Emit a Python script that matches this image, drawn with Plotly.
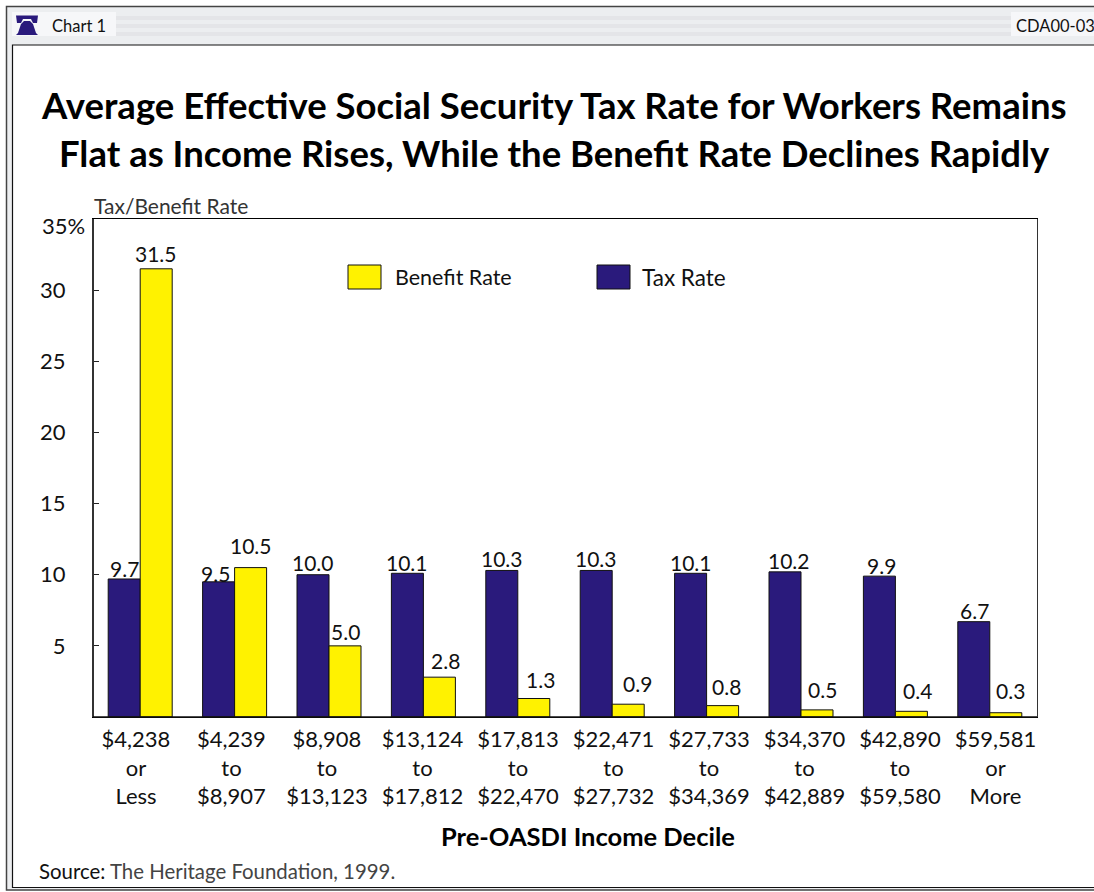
import plotly.graph_objects as go

# Income deciles and rates
income_bands = ["$4,238<br>or<br>Less", "$4,239<br>to<br>$8,907", "$8,908<br>to<br>$13,123",
                "$13,124<br>to<br>$17,812", "$17,813<br>to<br>$22,470", "$22,471<br>to<br>$27,732",
                "$27,733<br>to<br>$34,369", "$34,370<br>to<br>$42,889", "$42,890<br>to<br>$59,580",
                "$59,581<br>or<br>More"]
tax_rate = [9.7, 9.5, 10.0, 10.1, 10.3, 10.3, 10.1, 10.2, 9.9, 6.7]
benefit_rate = [31.5, 10.5, 5.0, 2.8, 1.3, 0.9, 0.8, 0.5, 0.4, 0.3]
y_ticks = [5, 10, 15, 20, 25, 30, 35]
y_tick_labels = ["5", "10", "15", "20", "25", "30", ""]

# Hand placement of the value labels (pixels away from each bar's top centre)
tax_label_lift = [10, 8, 12, 11, 12, 12, 11, 11, 11, 11]
tax_label_shift = [0, -3, 0, 0, 0, 0, 0, 4, 2, 1]
benefit_label_lift = [15, 22, 14, 17, 19, 21, 19, 20, 21, 22]
benefit_label_shift = [0, 0, 0, 6, 7, 9, 4, 5, 6, 5]

NAVY = "#2a1a7c"
YELLOW = "#fff200"
FONT = "Lato"
W, H = 1094, 892
L, R, T, B = 93, 1037, 219, 717
BAR_OFFSET = 16


def px_x(v):
    return (v - L) / (R - L)


def px_y(v):
    return (B - v) / (B - T)


def rect(x0, y0, x1, y1, fill=None, line=None, width=1, layer="below"):
    return dict(type="rect", xref="paper", yref="paper", x0=px_x(x0), x1=px_x(x1),
                y0=px_y(y1), y1=px_y(y0), fillcolor=fill or "rgba(0,0,0,0)",
                line=dict(color=line or "rgba(0,0,0,0)", width=width if line else 0), layer=layer)


def note(x, y, text, size=20, anchor="left", color="#111111", family=FONT):
    return dict(xref="paper", yref="paper", x=px_x(x), y=px_y(y), text=text, showarrow=False,
                xanchor=anchor, yanchor="middle", align=anchor, borderpad=0,
                font=dict(family=family, size=size, color=color))


def outline_path(points):
    return "M " + " L ".join(f"{px_x(x)} {px_y(y)}" for x, y in points) + " Z"


fig = go.Figure()
for name, values, colour in [("Tax Rate", tax_rate, NAVY), ("Benefit Rate", benefit_rate, YELLOW)]:
    fig.add_bar(x=income_bands, y=values, name=name, cliponaxis=False,
                marker=dict(color=colour, line=dict(color="#111111", width=1)))

# Second bottom axis carries the decile labels on their own slightly wider spacing
fig.add_scatter(x=list(range(len(income_bands))), y=[0] * len(income_bands), xaxis="x2", mode="markers",
                marker=dict(opacity=0), hoverinfo="skip", showlegend=False)

shapes = [
    # window frame and header band
    rect(6.5, 6.5, 1100, 890, "#eceef0", "#444444", 1.5),
    rect(12, 12, 116, 36, "#f6f7f9"),
    rect(1011, 12, 1100, 36, "#f6f7f9"),
    rect(116, 16, 1011, 20, "#e4e5e8"),
    rect(116, 24, 1011, 28, "#e4e5e8"),
    rect(116, 32, 1011, 36, "#e4e5e8"),
    rect(12.5, 45, 1100, 887.5, "#ffffff", "#111111", 1.2),
    # heavier left and bottom axis strokes
    dict(type="line", xref="paper", yref="paper", x0=0, x1=0, y0=0, y1=1, line=dict(color="#333333", width=2)),
    dict(type="line", xref="paper", yref="paper", x0=0, x1=1, y0=0, y1=0, line=dict(color="#111111", width=1.5)),
    # legend swatches
    rect(348, 265, 381, 289, YELLOW, "#111111", 1, "above"),
    rect(597, 265, 630, 289, NAVY, "#111111", 1, "above"),
    # bell icon in the header
    dict(type="path", xref="paper", yref="paper", fillcolor=NAVY, line=dict(width=0), layer="above",
         path=outline_path([(16, 35), (18, 33), (21, 24), (24, 21), (30, 21), (33, 24), (36, 33), (38, 35)])),
    dict(type="path", xref="paper", yref="paper", fillcolor=NAVY, line=dict(width=0), layer="above",
         path=outline_path([(16, 15.5), (38, 15.5), (37, 23), (33, 23), (31, 19), (23, 19), (21, 23), (17, 23)])),
]

annotations = [
    note(51, 26, "Chart 1", 16.5),
    note(1015, 26, "CDA00-03", 16.5),
    note(554, 105, "<b>Average Effective Social Security Tax Rate for Workers Remains</b>", 36.5, "center", "#000000"),
    note(554, 153, "<b>Flat as Income Rises, While the Benefit Rate Declines Rapidly</b>", 36.5, "center", "#000000"),
    note(93, 205, "Tax/Benefit Rate", 21, "left", "#333333"),
    note(86, 225, "35%", 22, "right"),
    note(394, 277, "Benefit Rate", 21.5),
    note(641, 277, "Tax Rate", 22.5),
    note(588, 836, "<b>Pre-OASDI Income Decile</b>", 25.5, "center", "#000000"),
    note(38, 871, "Source: <span style='color:#444444'>The Heritage Foundation, 1999.</span>", 20.4),
]

# Value labels sit on the bars they describe
series_labels = [(tax_rate, tax_label_lift, tax_label_shift, -BAR_OFFSET),
                 (benefit_rate, benefit_label_lift, benefit_label_shift, BAR_OFFSET)]
for values, lifts, shifts, offset in series_labels:
    for band, value, lift, shift in zip(income_bands, values, lifts, shifts):
        annotations.append(dict(x=band, y=value, xref="x", yref="y", text=f"{value:.1f}", showarrow=False,
                                xanchor="center", yanchor="middle", xshift=offset + shift, yshift=lift,
                                font=dict(family=FONT, size=21, color="#111111")))

fig.update_layout(
    width=W, height=H, autosize=False, margin=dict(l=L, r=W - R, t=T, b=H - B),
    paper_bgcolor="#ffffff", plot_bgcolor="#ffffff", showlegend=False,
    barmode="group", bargap=0.322, bargroupgap=0,
    shapes=shapes, annotations=annotations,
    font=dict(family=FONT, size=20, color="#111111"),
    xaxis=dict(showline=True, linecolor="#000000", linewidth=1, mirror=True, ticks="", showgrid=False,
               showticklabels=False),
    xaxis2=dict(overlaying="x", anchor="y", side="bottom", range=[-0.45, 9.435], tickmode="array",
                tickvals=list(range(len(income_bands))), ticktext=income_bands, ticks="", showgrid=False,
                showline=False, zeroline=False, tickangle=0, ticklabelstandoff=7,
                tickfont=dict(family=FONT, size=22, color="#111111")),
    yaxis=dict(range=[0, 35], tickvals=y_ticks, ticktext=y_tick_labels, ticks="inside", ticklen=6,
               tickcolor="#222222", showline=True, linecolor="#333333", linewidth=1, mirror=True,
               showgrid=False, zeroline=False, ticklabelstandoff=22,
               tickfont=dict(family=FONT, size=22, color="#111111")),
)

fig.write_html("out.html")
